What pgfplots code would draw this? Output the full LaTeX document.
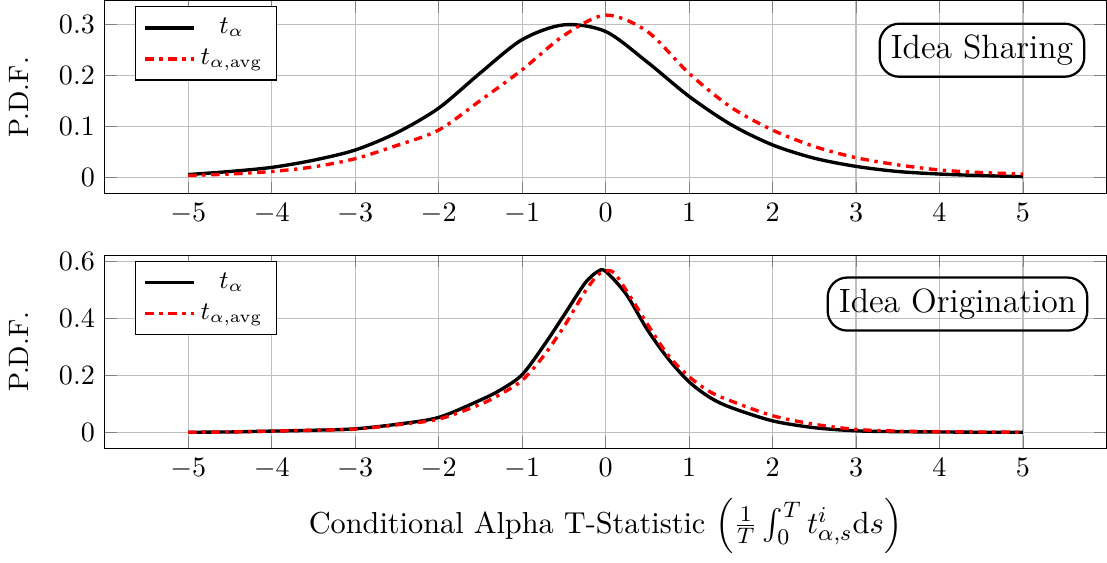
\documentclass[border=0pt]{standalone}
\usepackage{pgfplots}
\pgfplotsset{compat=1.18}
\usepackage{amsmath}
\begin{document}
\begin{tikzpicture}
\tikzset{box/.style={draw, rounded corners=7pt, thick, inner sep=4pt, font=\large}}
\pgfplotsset{
  pdfax/.style={
    scale only axis,
    width=12.55cm, height=2.42cm,
    xmin=-6, xmax=6,
    xtick={-5,-4,...,5},
    grid=major,
    grid style={gray!50},
    ylabel={P.D.F.},
    ylabel shift=4pt,
    legend pos=north west,
    legend cell align=center,
    legend style={font=\small},
    every axis plot/.append style={line join=round},
  },
  tstat/.style={black, very thick},
  tavg/.style={red, very thick, dash dot},
}
\begin{axis}[pdfax, name=top,
  ymin=-0.0315, ymax=0.3465,
  ytick={0,0.1,0.2,0.3},
  yticklabel style={/pgf/number format/fixed}]
\addplot[tstat, smooth] coordinates {
  (-5,0.006) (-4.5,0.012) (-4,0.02) (-3.5,0.034) (-3,0.054) (-2.5,0.088)
  (-2,0.136) (-1.5,0.205) (-1,0.27) (-0.5,0.299) (0,0.286) (0.5,0.226)
  (1,0.159) (1.5,0.104) (2,0.064) (2.5,0.038) (3,0.022) (3.5,0.012)
  (4,0.007) (4.5,0.004) (5,0.002)
};
\addlegendentry{$t_{\alpha}$}
\addplot[tavg, smooth] coordinates {
  (-5,0.004) (-4.5,0.007) (-4,0.012) (-3.5,0.021) (-3,0.037) (-2.5,0.063)
  (-2,0.093) (-1.5,0.151) (-1,0.211) (-0.5,0.278) (0,0.318) (0.5,0.286)
  (1,0.204) (1.5,0.138) (2,0.093) (2.5,0.061) (3,0.039) (3.5,0.025)
  (4,0.015) (4.5,0.01) (5,0.007)
};
\addlegendentry{$t_{\alpha,\mathrm{avg}}$}
\node[box, anchor=north east] at (rel axis cs:0.979,0.886) {Idea Sharing};
\end{axis}
\begin{axis}[pdfax, at={(0,-3.19cm)},
  ymin=-0.0565, ymax=0.6215,
  ytick={0,0.2,0.4,0.6},
  yticklabel style={/pgf/number format/fixed},
  xlabel={Conditional Alpha T-Statistic $\left(\frac{1}{T}\int_0^T t^i_{\alpha,s}\mathrm{d}s\right)$},
  xlabel style={font=\fontsize{10.8}{13}\selectfont}]
\addplot[tstat, smooth] coordinates {
  (-5,0) (-4.5,0.001) (-4,0.004) (-3.5,0.007) (-3,0.012) (-2.5,0.028)
  (-2,0.052) (-1.5,0.113) (-1.25,0.15) (-1,0.202) (-0.75,0.30) (-0.5,0.41)
  (-0.25,0.522) (-0.1,0.563) (0,0.565) (0.25,0.483) (0.5,0.36) (0.75,0.258)
  (1,0.177) (1.25,0.122) (1.5,0.087) (2,0.04) (2.5,0.016) (3,0.005)
  (3.5,0.002) (4,0.001) (4.5,0) (5,0)
};
\addlegendentry{$t_{\alpha}$}
\addplot[tavg, smooth] coordinates {
  (-5,0) (-4.5,0.001) (-4,0.004) (-3.5,0.007) (-3,0.011) (-2.5,0.026)
  (-2,0.046) (-1.5,0.098) (-1.25,0.135) (-1,0.182) (-0.75,0.265) (-0.5,0.37)
  (-0.25,0.492) (-0.1,0.55) (0,0.566) (0.1,0.56) (0.25,0.497) (0.5,0.38)
  (0.75,0.27) (1,0.195) (1.25,0.142) (1.5,0.11) (2,0.058) (2.5,0.028)
  (3,0.01) (3.5,0.004) (4,0.002) (4.5,0.001) (5,0)
};
\addlegendentry{$t_{\alpha,\mathrm{avg}}$}
\node[box, anchor=north east] at (rel axis cs:0.982,0.89) {Idea Origination};
\end{axis}
\end{tikzpicture}
\end{document}
